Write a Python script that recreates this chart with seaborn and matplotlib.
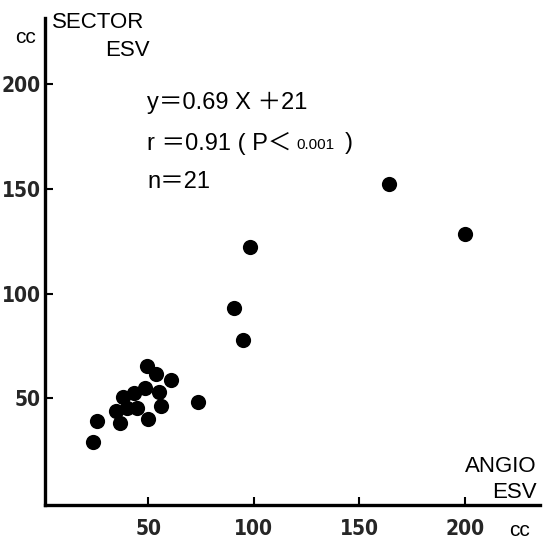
import matplotlib
matplotlib.use("Agg")
import matplotlib.pyplot as plt
import seaborn as sns
import pandas as pd

# Data (ANGIO ESV vs SECTOR ESV, cc)
angio_esv = [23.9, 25.7, 36.4, 34.5, 37.9, 39.8, 43.2, 44.8, 48.4, 50.0, 49.2,
             53.6, 55.1, 55.9, 60.8, 73.6, 90.8, 95.0, 98.3, 164.1, 200.1]
sector_esv = [29.2, 39.3, 38.3, 44.0, 50.7, 45.2, 52.4, 45.5, 55.0, 40.2, 65.6,
              61.5, 53.1, 46.4, 58.6, 48.1, 93.1, 77.9, 122.1, 152.6, 128.5]
x_ticks = [50, 100, 150, 200]
y_ticks = [50, 100, 150, 200]
x_tick_labels = ["50", "100", "150", "200"]
y_tick_labels = ["50", "100", "150", "200"]

df = pd.DataFrame({"angio": angio_esv, "sector": sector_esv})

sns.set_theme(style="white")
plain = "Liberation Sans"
cjk = "Noto Sans CJK JP"
plt.rcParams["font.family"] = [plain, "DejaVu Sans"]

W, H = 556, 542
fig = plt.figure(figsize=(W / 100, H / 100), dpi=100)
ax = fig.add_axes([45 / W, 1 - 505 / H, (540 - 45) / W, (505 - 18) / H])

sns.scatterplot(data=df, x="angio", y="sector", ax=ax, color="black",
                s=120, edgecolor="black", linewidth=0, legend=False)

ax.set_xlim(1, 235.6)
ax.set_ylim(-1.1, 231.8)
ax.set_xlabel("")
ax.set_ylabel("")
ax.set_xticks(x_ticks)
ax.set_yticks(y_ticks)
tick_kw = dict(fontfamily="DejaVu Sans", fontstretch="condensed", fontweight="bold", fontsize=15)
ax.set_xticklabels(x_tick_labels, **tick_kw)
ax.set_yticklabels(y_tick_labels, **tick_kw)
ax.tick_params(axis="both", direction="in", length=6, width=1.5, color="black",
               bottom=True, left=True)
ax.tick_params(axis="x", pad=10)
ax.tick_params(axis="y", pad=3)
for side in ["top", "right"]:
    ax.spines[side].set_visible(False)
for side in ["left", "bottom"]:
    ax.spines[side].set_visible(True)
    ax.spines[side].set_linewidth(2.4)
    ax.spines[side].set_color("black")


def ft(px, py, s, **kw):
    fig.text(px / W, 1 - py / H, s, color="black", **kw)

# axis titles
ft(52, 22, "SECTOR", fontsize=16, va="center", ha="left")
ft(150, 50, "ESV", fontsize=16, va="center", ha="right")
ft(26, 38, "cc", fontsize=15, va="center", ha="center")
ft(537, 467, "ANGIO", fontsize=16, va="center", ha="right")
ft(537, 493, "ESV", fontsize=16, va="center", ha="right")
ft(519, 531, "cc", fontsize=15, va="center", ha="center")

# annotations
fam = [plain, cjk, "DejaVu Sans"]
ft(147, 103, "y\uff1d0.69 X \uff0b21", fontsize=17, va="center", ha="left", fontfamily=fam)
ft(147, 143, "r \uff1d0.91 ( P\uff1c", fontsize=17, va="center", ha="left", fontfamily=fam)
ft(296, 145, "0.001", fontsize=11, va="center", ha="left", fontfamily=fam)
ft(345, 143, ")", fontsize=17, va="center", ha="left", fontfamily=fam)
ft(147, 182, "n\uff1d21", fontsize=17, va="center", ha="left", fontfamily=fam)

fig.savefig("out.png", dpi=100, facecolor="white")
